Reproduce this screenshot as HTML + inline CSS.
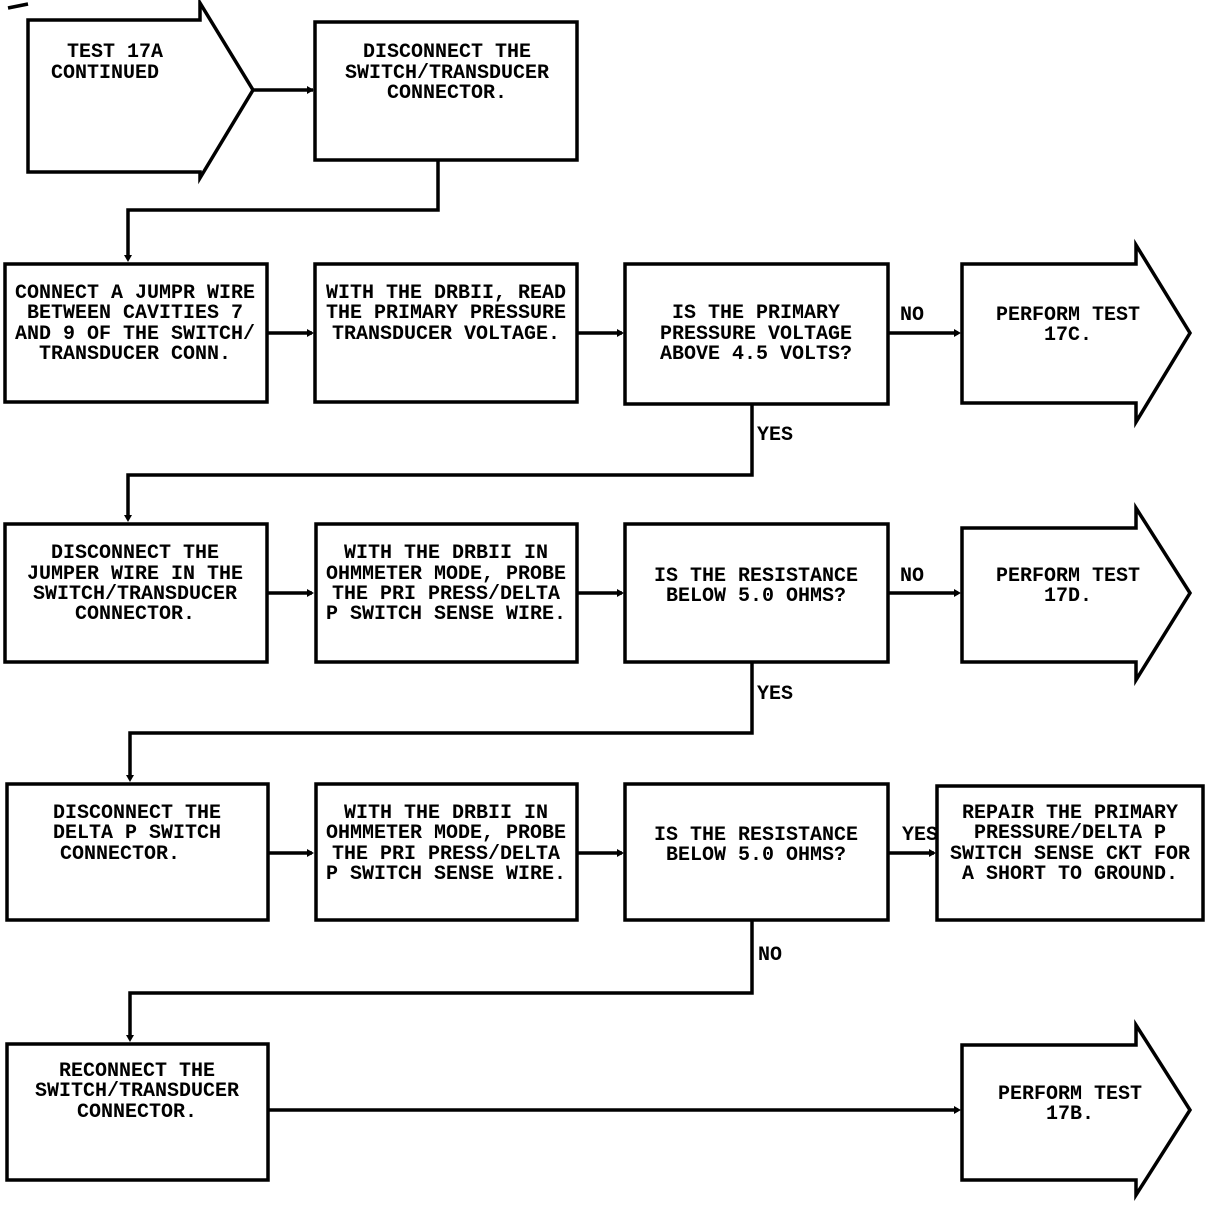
<!DOCTYPE html>
<html><head><meta charset="utf-8"><style>
html,body{margin:0;padding:0;background:#fff;}
svg{display:block;}
text{font-family:"Liberation Mono",monospace;font-size:20px;font-weight:bold;fill:#000;text-anchor:middle;}
.l{text-anchor:start;}
</style></head><body>
<svg width="1216" height="1206" viewBox="0 0 1216 1206" xmlns="http://www.w3.org/2000/svg">
<g fill="none" stroke="#000" stroke-width="3.5" stroke-linejoin="miter">
<path d="M8 8 L28 4"/>
<!-- row1 -->
<path d="M28 20 H200 V3 L253 90 L200 178 V172 H28 Z"/>
<rect x="315" y="22" width="262" height="138"/>
<path d="M253 90 H313"/>
<path d="M438 160 V210 H128 V258"/>
<!-- row2 -->
<rect x="5" y="264" width="262" height="138"/>
<rect x="315" y="264" width="262" height="138"/>
<rect x="625" y="264" width="263" height="140"/>
<path d="M962 264 H1136 V245 L1190 333 L1136 422 V403 H962 Z"/>
<path d="M267 333 H312 M577 333 H622 M888 333 H958"/>
<path d="M752 404 V475 H128 V518"/>
<!-- row3 -->
<rect x="5" y="524" width="262" height="138"/>
<rect x="316" y="524" width="261" height="138"/>
<rect x="625" y="524" width="263" height="138"/>
<path d="M962 528 H1136 V508 L1190 593 L1136 680 V662 H962 Z"/>
<path d="M267 593 H312 M577 593 H622 M888 593 H958"/>
<path d="M752 662 V733 H130 V778"/>
<!-- row4 -->
<rect x="7" y="784" width="261" height="136"/>
<rect x="316" y="784" width="261" height="136"/>
<rect x="625" y="784" width="263" height="136"/>
<rect x="937" y="786" width="266" height="134"/>
<path d="M268 853 H312 M577 853 H622 M888 853 H934"/>
<path d="M752 920 V993 H130 V1038"/>
<!-- row5 -->
<rect x="7" y="1044" width="261" height="136"/>
<path d="M962 1045 H1136 V1025 L1190 1110 L1136 1195 V1180 H962 Z"/>
<path d="M268 1110 H958"/>
</g>
<g fill="#000">
<path d="M314 90 l-7 -4 v8 z"/><path d="M128 262 l-4 -7 h8 z"/>
<path d="M314 333 l-7 -4 v8 z"/><path d="M624 333 l-7 -4 v8 z"/><path d="M961 333 l-7 -4 v8 z"/>
<path d="M128 522 l-4 -7 h8 z"/>
<path d="M314 593 l-7 -4 v8 z"/><path d="M624 593 l-7 -4 v8 z"/><path d="M961 593 l-7 -4 v8 z"/>
<path d="M130 782 l-4 -7 h8 z"/>
<path d="M314 853 l-7 -4 v8 z"/><path d="M624 853 l-7 -4 v8 z"/><path d="M936 853 l-7 -4 v8 z"/>
<path d="M130 1042 l-4 -7 h8 z"/>
<path d="M961 1110 l-7 -4 v8 z"/>
</g>
<!-- text -->
<text x="115" y="57">TEST 17A</text>
<text x="105" y="78">CONTINUED</text>
<text x="447" y="57">DISCONNECT THE</text>
<text x="447" y="78">SWITCH/TRANSDUCER</text>
<text x="447" y="98">CONNECTOR.</text>

<text x="135" y="298">CONNECT A JUMPR WIRE</text>
<text x="135" y="318">BETWEEN CAVITIES 7</text>
<text x="135" y="339">AND 9 OF THE SWITCH/</text>
<text x="135" y="359">TRANSDUCER CONN.</text>
<text x="446" y="298">WITH THE DRBII, READ</text>
<text x="446" y="318">THE PRIMARY PRESSURE</text>
<text x="446" y="339">TRANSDUCER VOLTAGE.</text>
<text x="756" y="318">IS THE PRIMARY</text>
<text x="756" y="339">PRESSURE VOLTAGE</text>
<text x="756" y="359">ABOVE 4.5 VOLTS?</text>
<text x="1068" y="320">PERFORM TEST</text>
<text x="1068" y="340">17C.</text>
<text x="912" y="320">NO</text>
<text x="775" y="440">YES</text>

<text x="135" y="558">DISCONNECT THE</text>
<text x="135" y="579">JUMPER WIRE IN THE</text>
<text x="135" y="599">SWITCH/TRANSDUCER</text>
<text x="135" y="619">CONNECTOR.</text>
<text x="446" y="558">WITH THE DRBII IN</text>
<text x="446" y="579">OHMMETER MODE, PROBE</text>
<text x="446" y="599">THE PRI PRESS/DELTA</text>
<text x="446" y="619">P SWITCH SENSE WIRE.</text>
<text x="756" y="581">IS THE RESISTANCE</text>
<text x="756" y="601">BELOW 5.0 OHMS?</text>
<text x="1068" y="581">PERFORM TEST</text>
<text x="1068" y="601">17D.</text>
<text x="912" y="581">NO</text>
<text x="775" y="699">YES</text>

<text x="137" y="818">DISCONNECT THE</text>
<text x="137" y="838">DELTA P SWITCH</text>
<text x="120" y="859">CONNECTOR.</text>
<text x="446" y="818">WITH THE DRBII IN</text>
<text x="446" y="838">OHMMETER MODE, PROBE</text>
<text x="446" y="859">THE PRI PRESS/DELTA</text>
<text x="446" y="879">P SWITCH SENSE WIRE.</text>
<text x="756" y="840">IS THE RESISTANCE</text>
<text x="756" y="860">BELOW 5.0 OHMS?</text>
<text x="1070" y="818">REPAIR THE PRIMARY</text>
<text x="1070" y="838">PRESSURE/DELTA P</text>
<text x="1070" y="859">SWITCH SENSE CKT FOR</text>
<text x="1070" y="879">A SHORT TO GROUND.</text>
<text x="920" y="840">YES</text>
<text x="770" y="960">NO</text>

<text x="137" y="1076">RECONNECT THE</text>
<text x="137" y="1096">SWITCH/TRANSDUCER</text>
<text x="137" y="1117">CONNECTOR.</text>
<text x="1070" y="1099">PERFORM TEST</text>
<text x="1070" y="1119">17B.</text>
</svg>
</body></html>
